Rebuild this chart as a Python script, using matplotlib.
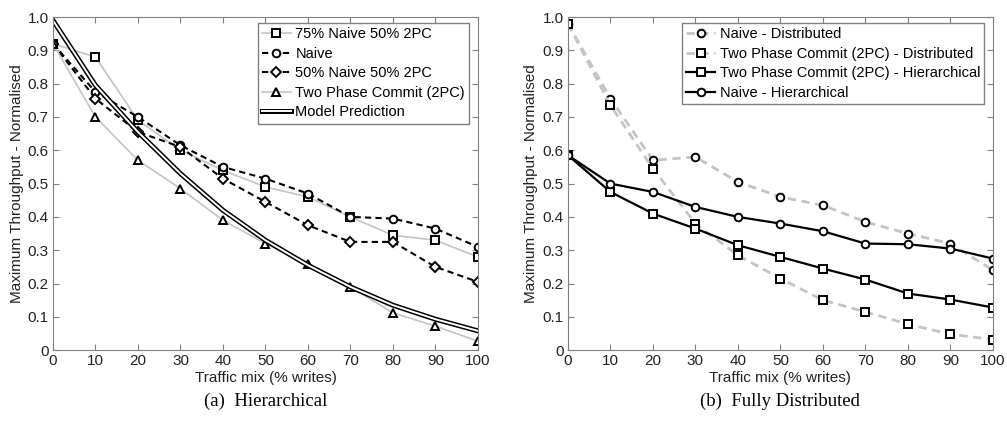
import matplotlib
matplotlib.use("Agg")
import matplotlib.pyplot as plt
import matplotlib.patheffects as pe

plt.rcParams['font.family'] = ['Liberation Sans', 'DejaVu Sans']

writes = [0, 10, 20, 30, 40, 50, 60, 70, 80, 90, 100]

# (a) hierarchical
mix75 = [0.92, 0.88, 0.69, 0.60, 0.54, 0.49, 0.46, 0.40, 0.345, 0.33, 0.28]
naive = [0.92, 0.775, 0.70, 0.615, 0.55, 0.515, 0.47, 0.40, 0.395, 0.365, 0.31]
mix50 = [0.92, 0.755, 0.655, 0.61, 0.515, 0.445, 0.375, 0.325, 0.325, 0.25, 0.205]
twopc = [0.92, 0.70, 0.57, 0.485, 0.39, 0.32, 0.26, 0.19, 0.112, 0.072, 0.027]
model = [0.99, 0.795, 0.655, 0.53, 0.42, 0.33, 0.255, 0.19, 0.135, 0.093, 0.058]

# (b) fully distributed
naive_dist = [0.98, 0.755, 0.57, 0.58, 0.505, 0.46, 0.435, 0.385, 0.35, 0.32, 0.24]
twopc_dist = [0.98, 0.735, 0.545, 0.38, 0.285, 0.215, 0.15, 0.115, 0.078, 0.048, 0.032]
twopc_hier = [0.585, 0.475, 0.41, 0.365, 0.315, 0.28, 0.245, 0.212, 0.17, 0.152, 0.128]
naive_hier = [0.585, 0.50, 0.475, 0.43, 0.40, 0.38, 0.357, 0.32, 0.318, 0.305, 0.275]

gray = '#c4c4c4'
dash = (0, (3, 2))
mk = dict(markersize=5.5, markerfacecolor='white', markeredgecolor='black', markeredgewidth=1.4)
leg = dict(loc='upper right', bbox_to_anchor=(0.98, 0.983), fontsize=10.5,
           fancybox=False, edgecolor='#808080', framealpha=1, borderpad=0.3,
           labelspacing=0.38, handlelength=2.0, handletextpad=0.3, borderaxespad=0)

fig = plt.figure(figsize=(10.07, 4.26), dpi=100)
ax1 = fig.add_axes([0.0526, 0.178, 0.422, 0.782])
ax2 = fig.add_axes([0.564, 0.178, 0.422, 0.782])

ax1.plot(writes, mix75, color=gray, lw=1.2, marker='s', label='75% Naive 50% 2PC', **mk)
ax1.plot(writes, naive, color='black', lw=1.5, ls=dash, marker='o', label='Naive', **mk)
ax1.plot(writes, mix50, color='black', lw=1.5, ls=dash, marker='D', label='50% Naive 50% 2PC',
         markersize=5, markerfacecolor='white', markeredgecolor='black', markeredgewidth=1.4)
ax1.plot(writes, twopc, color=gray, lw=1.2, marker='^', label='Two Phase Commit (2PC)', **mk)
ax1.plot(writes, model, color='white', lw=1.4, label='Model Prediction',
         path_effects=[pe.Stroke(linewidth=3.6, foreground='black'), pe.Normal()])
ax1.legend(**leg)

ax2.plot(writes, naive_dist, color=gray, lw=2, ls=dash, marker='o', label='Naive - Distributed', **mk)
ax2.plot(writes, twopc_dist, color=gray, lw=2, ls=dash, marker='s', label='Two Phase Commit (2PC) - Distributed', **mk)
ax2.plot(writes, twopc_hier, color='black', lw=1.6, marker='s', label='Two Phase Commit (2PC) - Hierarchical', **mk)
ax2.plot(writes, naive_hier, color='black', lw=1.6, marker='o', label='Naive - Hierarchical', **mk)
ax2.legend(**leg)

for ax in (ax1, ax2):
    ax.set_xlim(0, 100)
    ax.set_ylim(0, 1.0)
    ax.set_xticks(writes)
    ax.set_xticklabels([str(w) for w in writes])
    ax.set_yticks([i / 10 for i in range(11)])
    ax.set_yticklabels(['0'] + ['%.1f' % (i / 10) for i in range(1, 11)])
    ax.tick_params(direction='in', top=True, right=True, length=4, color='#808080',
                   labelsize=11, labelcolor='#222222', pad=3)
    for s in ax.spines.values():
        s.set_color('#808080')
        s.set_linewidth(0.8)
    ax.set_xlabel('Traffic mix (% writes)', fontsize=11, labelpad=2, color='#222222')
    ax.set_ylabel('Maximum Throughput - Normalised', fontsize=11, labelpad=3, color='#222222')

fig.text(0.264, 0.058, '(a)  Hierarchical', family='Liberation Serif', fontsize=13.5,
         ha='center', va='center')
fig.text(0.775, 0.058, '(b)  Fully Distributed', family='Liberation Serif', fontsize=13.5,
         ha='center', va='center')

fig.savefig('out.png', dpi=100)
